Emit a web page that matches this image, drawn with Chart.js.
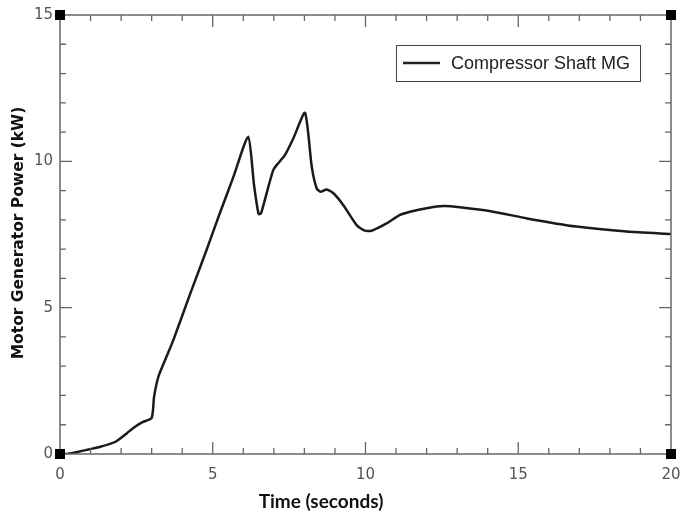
<!DOCTYPE html>
<html>
<head>
<meta charset="utf-8">
<script src="https://cdn.jsdelivr.net/npm/chart.js@4"></script>
<style>
  html, body { margin: 0; padding: 0; background: #fff; }
  #wrap { width: 683px; height: 515px; }
</style>
</head>
<body>
<div id="wrap"><canvas id="power-chart" width="683" height="515"></canvas></div>
<script>
// time axis (seconds) and motor generator power (kW)
const timeSec = [0, 0.23, 0.6, 1.0, 1.3, 1.8, 2.2, 2.4, 2.7, 3.0, 3.08, 3.22, 3.44, 3.71, 4.26, 4.8, 5.24, 5.67, 6.16,
  6.35, 6.5, 6.58, 6.82, 6.98, 7.09, 7.36, 7.64, 8.02, 8.24, 8.4, 8.53, 8.73, 8.95, 9.27, 9.71, 9.98, 10.2,
  10.69, 11.13, 11.46, 12.0, 12.55, 13.09, 14.18, 15.28, 16.91, 18.55, 20];
const powerKW = [0, 0, 0.08, 0.17, 0.24, 0.41, 0.72, 0.89, 1.09, 1.23, 1.96, 2.64, 3.21, 3.89, 5.47, 6.98, 8.25, 9.45, 10.84,
  9.2, 8.2, 8.22, 9.13, 9.7, 9.87, 10.21, 10.79, 11.66, 9.82, 9.08, 8.96, 9.04, 8.91, 8.51, 7.82, 7.63, 7.63,
  7.88, 8.17, 8.28, 8.4, 8.47, 8.43, 8.28, 8.05, 7.77, 7.6, 7.52];
const seriesName = "Compressor Shaft MG";
const xTitle = "Time (seconds)";
const yTitle = "Motor Generator Power (kW)";
const xRange = [0, 20];
const yRange = [0, 15];

const axisColor = "#666";

//Draw the frame, inward ticks, corner squares, titles and legend
const framePlugin = {
  id: "frame",
  afterDraw(chart) {
    const ctx = chart.ctx;
    const a = chart.chartArea;
    const xs = chart.scales.x;
    const ys = chart.scales.y;
    ctx.save();
    ctx.strokeStyle = axisColor;
    ctx.lineWidth = 1.5;
    ctx.strokeRect(a.left, a.top, a.right - a.left, a.bottom - a.top);

    // inward ticks on all four sides
    ctx.lineWidth = 1.3;
    ctx.beginPath();
    for (let v = xRange[0] + 1; v < xRange[1]; v++) {
      const px = xs.getPixelForValue(v);
      const len = v % 5 === 0 ? 12 : 6;
      ctx.moveTo(px, a.bottom); ctx.lineTo(px, a.bottom - len);
      ctx.moveTo(px, a.top); ctx.lineTo(px, a.top + len);
    }
    for (let v = yRange[0] + 1; v < yRange[1]; v++) {
      const py = ys.getPixelForValue(v);
      const len = v % 5 === 0 ? 12 : 6;
      ctx.moveTo(a.left, py); ctx.lineTo(a.left + len, py);
      ctx.moveTo(a.right, py); ctx.lineTo(a.right - len, py);
    }
    ctx.stroke();

    // black corner markers
    ctx.fillStyle = "#000";
    [[a.left, a.top], [a.right, a.top], [a.left, a.bottom], [a.right, a.bottom]].forEach(([cx, cy]) => {
      ctx.fillRect(cx - 5, cy - 5, 10, 10);
    });

    // axis titles
    ctx.fillStyle = "#111";
    ctx.textAlign = "center";
    ctx.textBaseline = "middle";
    ctx.font = "bold 19px Lato";
    ctx.fillText(xTitle, 321, 502);
    ctx.save();
    ctx.translate(19, 233);
    ctx.rotate(-Math.PI / 2);
    ctx.font = "bold 15.5px 'DejaVu Sans'";
    ctx.fillText(yTitle, 0, 0);
    ctx.restore();

    // legend box
    ctx.strokeStyle = "#444";
    ctx.lineWidth = 1;
    ctx.strokeRect(396.5, 45.5, 244, 36);
    ctx.strokeStyle = "#222";
    ctx.lineWidth = 2.5;
    ctx.beginPath();
    ctx.moveTo(403, 63);
    ctx.lineTo(440, 63);
    ctx.stroke();
    ctx.fillStyle = "#222";
    ctx.textAlign = "left";
    ctx.font = "18px 'Liberation Sans'";
    ctx.fillText(seriesName, 451, 64);
    ctx.restore();
  },
};

const tickFont = { family: "DejaVu Sans", size: 15 };

new Chart(document.getElementById("power-chart"), {
  type: "line",
  data: {
    datasets: [
      {
        label: seriesName,
        data: timeSec.map((t, i) => ({ x: t, y: powerKW[i] })),
        borderColor: "#1a1a1a",
        borderWidth: 2.5,
        borderJoinStyle: "round",
        pointRadius: 0,
        tension: 0.2,
        fill: false,
      },
    ],
  },
  options: {
    responsive: false,
    animation: false,
    layout: { padding: { top: 15, right: 12, left: 0, bottom: 0 } },
    plugins: {
      legend: { display: false },
      tooltip: { enabled: false },
    },
    scales: {
      x: {
        type: "linear",
        min: xRange[0],
        max: xRange[1],
        grid: { display: false, drawTicks: false },
        border: { display: false },
        afterFit: (scale) => {
          scale.height = 61;
          scale.paddingLeft = 0;
          scale.paddingRight = 0;
        },
        ticks: {
          stepSize: 1,
          autoSkip: false,
          maxRotation: 0,
          padding: 12,
          color: "#555",
          font: tickFont,
          callback: (v) => (v % 5 === 0 ? v : ""),
        },
      },
      y: {
        min: yRange[0],
        max: yRange[1],
        grid: { display: false, drawTicks: false },
        border: { display: false },
        afterFit: (scale) => {
          scale.width = 60;
          scale.paddingTop = 0;
          scale.paddingBottom = 0;
        },
        ticks: {
          stepSize: 1,
          autoSkip: false,
          padding: 7,
          color: "#555",
          font: tickFont,
          callback: (v) => (v % 5 === 0 ? v : ""),
        },
      },
    },
  },
  plugins: [framePlugin],
});
</script>
</body>
</html>
